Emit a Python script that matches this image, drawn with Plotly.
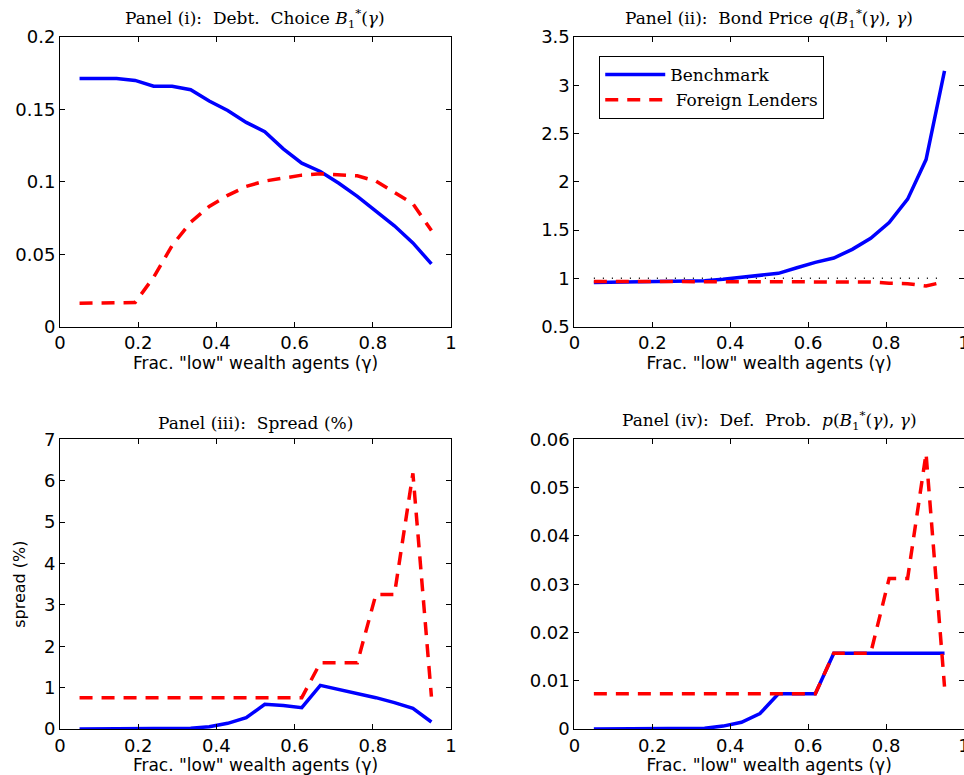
import plotly.graph_objects as go
from plotly.subplots import make_subplots

gamma = [0.05, 0.0974, 0.1447, 0.1921, 0.2395, 0.2868, 0.3342, 0.3816, 0.4289, 0.4763,
         0.5237, 0.5711, 0.6184, 0.6658, 0.7132, 0.7605, 0.8079, 0.8553, 0.9026, 0.95]

debt_bench = [0.1714, 0.1714, 0.1714, 0.170, 0.166, 0.166, 0.1636, 0.1558, 0.1493, 0.141,
              0.1346, 0.1228, 0.1129, 0.1071, 0.099, 0.0899, 0.0797, 0.0696, 0.0578, 0.0433]
debt_foreign = [0.0161, 0.0161, 0.0161, 0.0166, 0.0341, 0.056, 0.0721, 0.083, 0.0906, 0.0968,
                0.1005, 0.1025, 0.1046, 0.1055, 0.105, 0.1041, 0.1005, 0.0929, 0.0848, 0.0664]

price_bench = [0.958, 0.960, 0.962, 0.964, 0.967, 0.970, 0.976, 0.99, 1.01, 1.028,
               1.052, 1.11, 1.165, 1.21, 1.30, 1.415, 1.577, 1.82, 2.23, 3.15]
price_foreign = [0.968, 0.968, 0.968, 0.968, 0.968, 0.968, 0.968, 0.968, 0.968, 0.968,
                 0.968, 0.968, 0.966, 0.965, 0.965, 0.962, 0.95, 0.945, 0.92, 0.965]
par_x = [0.05, 0.95]
par_y = [1, 1]

spread_bench = [0, 0, 0, 0, 0, 0, 0.016, 0.056, 0.137, 0.274,
                0.596, 0.57, 0.516, 1.055, 0.96, 0.862, 0.757, 0.637, 0.5, 0.17]
spread_foreign = [0.757, 0.757, 0.757, 0.757, 0.757, 0.757, 0.757, 0.757, 0.757, 0.757,
                  0.757, 0.757, 0.757, 1.60, 1.60, 1.60, 3.25, 3.25, 6.18, 0.78]

defp_bench = [0, 0, 0, 0, 0, 0, 0.00014, 0.0006, 0.0014, 0.0032,
              0.0073, 0.0073, 0.0073, 0.0157, 0.0157, 0.0157, 0.0157, 0.0157, 0.0157, 0.0157]
defp_foreign = [0.0073, 0.0073, 0.0073, 0.0073, 0.0073, 0.0073, 0.0073, 0.0073, 0.0073, 0.0073,
                0.0073, 0.0073, 0.0073, 0.0157, 0.0157, 0.0157, 0.0312, 0.0312, 0.0571, 0.0088]

titles = ["Panel (i):  Debt.  Choice <i>B</i><sub>1</sub><sup>*</sup>(<i>γ</i>)",
          "Panel (ii):  Bond Price <i>q</i>(<i>B</i><sub>1</sub><sup>*</sup>(<i>γ</i>), <i>γ</i>)",
          "Panel (iii):  Spread (%)",
          "Panel (iv):  Def.  Prob.  <i>p</i>(<i>B</i><sub>1</sub><sup>*</sup>(<i>γ</i>), <i>γ</i>)"]
xlabel = 'Frac. "low" wealth agents (γ)'

BLUE = "#0000FF"
RED = "#FF0000"
SANS = "DejaVu Sans, Arial, sans-serif"
SERIF = "DejaVu Serif, Liberation Serif, serif"

fig = make_subplots(rows=2, cols=2, horizontal_spacing=0.1365, vertical_spacing=0.163)

panels = [
    (1, 1, debt_bench, debt_foreign),
    (1, 2, price_bench, price_foreign),
    (2, 1, spread_bench, spread_foreign),
    (2, 2, defp_bench, defp_foreign),
]
for i, (r, c, yb, yf) in enumerate(panels):
    if r == 1 and c == 2:
        fig.add_trace(go.Scatter(x=par_x, y=par_y, mode="lines",
                                 line=dict(color="black", width=1.5, dash="1px,8px"),
                                 showlegend=False, hoverinfo="skip"), row=r, col=c)
    fig.add_trace(go.Scatter(x=gamma, y=yb, mode="lines", name="Benchmark",
                             line=dict(color=BLUE, width=3.5),
                             showlegend=(i == 1)), row=r, col=c)
    fig.add_trace(go.Scatter(x=gamma, y=yf, mode="lines", name=" Foreign Lenders",
                             line=dict(color=RED, width=3.5, dash="13px,9px"),
                             showlegend=(i == 1)), row=r, col=c)

axis_common = dict(showline=True, linecolor="black", linewidth=1, mirror="ticks",
                   ticks="inside", ticklen=5, tickcolor="black", showgrid=False,
                   zeroline=False, automargin=False, ticklabeloverflow="allow",
                   tickfont=dict(family=SANS, size=18, color="black"))

yranges = [(0, 0.2, 0.05), (0.5, 3.5, 0.5), (0, 7, 1), (0, 0.06, 0.01)]
xdomains = [[0, 0.4325], [0.569, 1.0]]
for k in range(4):
    fig.update_xaxes(range=[0, 1], dtick=0.2, tickformat="~g", domain=xdomains[k % 2],
                     title=dict(text=xlabel, font=dict(family=SANS, size=17, color="black"),
                                standoff=2),
                     row=k // 2 + 1, col=k % 2 + 1, **axis_common)
    lo, hi, dt = yranges[k]
    fig.update_yaxes(range=[lo, hi], dtick=dt, tick0=lo, tickformat="~g",
                     row=k // 2 + 1, col=k % 2 + 1, **axis_common)

fig.update_yaxes(title=dict(text="spread (%)", font=dict(family=SANS, size=16, color="black"),
                            standoff=14), row=2, col=1)

# Subplot titles
fig.layout.annotations = []
doms = [("x domain", "y domain"), ("x2 domain", "y2 domain"), ("x3 domain", "y3 domain"), ("x4 domain", "y4 domain")]
for k, t in enumerate(titles):
    fig.add_annotation(text=t, xref=doms[k][0], yref=doms[k][1], x=0.5, y=1,
                       xanchor="center", yanchor="bottom", yshift=4, showarrow=False,
                       font=dict(family=SERIF, size=17, color="black"))

fig.update_layout(
    width=964, height=775,
    margin=dict(l=60, r=0, t=37, b=46),
    paper_bgcolor="white", plot_bgcolor="white",
    legend=dict(x=0.5965, y=0.9725, xanchor="left", yanchor="top",
                xref="paper", yref="paper",
                bordercolor="black", borderwidth=1, bgcolor="white",
                font=dict(family=SERIF, size=17, color="black"),
                tracegroupgap=0, itemwidth=60),
    showlegend=True,
)

fig.write_html("out.html")
